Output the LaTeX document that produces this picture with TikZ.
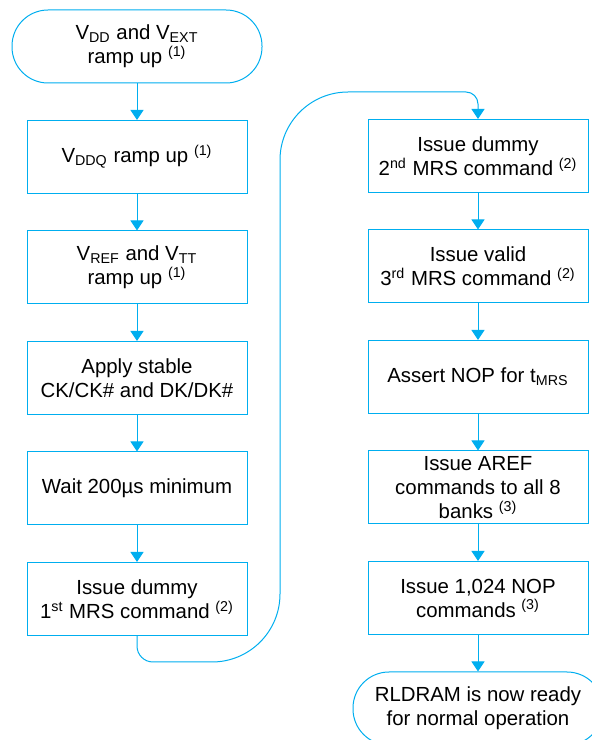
\documentclass[tikz,border=0pt]{standalone}
\usepackage{fontspec}
\setmainfont{Liberation Sans}
\usepackage{tikz}
\usetikzlibrary{arrows.meta}
\definecolor{flowblue}{RGB}{0,174,239}
\tikzset{x=0.5pt, y=0.5pt,
every node/.style={ % Sets the text of each node
font=\fontsize{10.2}{12}\selectfont,
align=center},
process/.style={ % Sets the properties for each box
draw=flowblue,
line width=0.5pt,
minimum width=110pt,
minimum height=36.5pt,
inner sep=1pt},
terminal/.style={ % Start and end of the flow
process,
minimum width=125pt,
rounded corners=18pt},
flow/.style={ % Sets the properties for each connector
draw=flowblue,
line width=0.5pt,
-{Triangle[width=6.5pt,length=5pt]}}}

\begin{document}
\begin{tikzpicture}
\clip (0,0) rectangle (592,740);
% left column
\node[terminal] (start) at (137,693.5) {V\textsubscript{DD} and V\textsubscript{EXT}\\ramp up \textsuperscript{(1)}};
\node[process] (s1) at (137,583) {V\textsubscript{DDQ} ramp up \textsuperscript{(1)}};
\node[process] (s2) at (137,472.5) {V\textsubscript{REF} and V\textsubscript{TT}\\ramp up \textsuperscript{(1)}};
\node[process] (s3) at (137,362) {Apply stable\\CK/CK\# and DK/DK\#};
\node[process] (s4) at (137,251.5) {Wait 200µs minimum};
\node[process] (s5) at (137,141) {Issue dummy\\1\textsuperscript{st} MRS command \textsuperscript{(2)}};
% right column
\node[process] (r1) at (478,584) {Issue dummy\\2\textsuperscript{nd} MRS command \textsuperscript{(2)}};
\node[process] (r2) at (478,473.5) {Issue valid\\3\textsuperscript{rd} MRS command \textsuperscript{(2)}};
\node[process] (r3) at (478,363) {Assert NOP for t\textsubscript{MRS}};
\node[process] (r4) at (478,252.5) {Issue AREF\\commands to all 8\\banks \textsuperscript{(3)}};
\node[process] (r5) at (478,142) {Issue 1,024 NOP\\commands \textsuperscript{(3)}};
\node[terminal] (stop) at (478,31.5) {RLDRAM is now ready\\for normal operation};
\draw[flow] (start) -- (s1);
\draw[flow] (s1) -- (s2);
\draw[flow] (s2) -- (s3);
\draw[flow] (s3) -- (s4);
\draw[flow] (s4) -- (s5);
\draw[flow] (s5.south) -- (137,94) arc[start angle=180, end angle=270, radius=8pt]
  -- (212,78) arc[start angle=270, end angle=360, radius=34pt]
  -- (280,580) arc[start angle=180, end angle=90, radius=34pt]
  -- (466,648) arc[start angle=90, end angle=0, radius=6pt] -- (r1.north);
\draw[flow] (r1) -- (r2);
\draw[flow] (r2) -- (r3);
\draw[flow] (r3) -- (r4);
\draw[flow] (r4) -- (r5);
\draw[flow] (r5) -- (stop);
\end{tikzpicture}
\end{document}
